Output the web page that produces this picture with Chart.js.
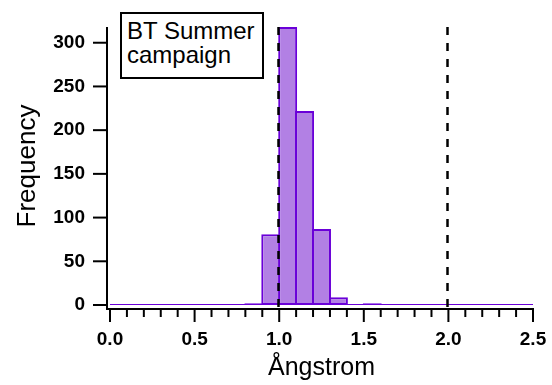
<!DOCTYPE html>
<html>
<head>
<meta charset="utf-8">
<script src="https://cdn.jsdelivr.net/npm/chart.js@4.4.1/dist/chart.umd.min.js"></script>
<style>
html,body{margin:0;padding:0;background:#fff;}
#wrap{position:relative;width:552px;height:385px;}
#note{position:absolute;left:120px;top:12px;width:144px;height:67px;box-sizing:border-box;border:2px solid #000;background:#fff;
  font-family:Arial,"Liberation Sans",sans-serif;font-size:24px;line-height:24px;padding:5px 0 0 5px;color:#000;white-space:nowrap;}
</style>
</head>
<body>
<div id="wrap">
<canvas id="c" width="552" height="385"></canvas>
<div id="note">BT Summer<br>campaign</div>
</div>
<script>
// ---- data ----
const binStarts = [0.0,0.1,0.2,0.3,0.4,0.5,0.6,0.7,0.8,0.9,1.0,1.1,1.2,1.3,1.4,1.5,1.6,1.7,1.8,1.9,2.0,2.1,2.2,2.3,2.4];
const counts    = [0,  0,  0,  0,  0,  0,  0,  0,  2,  81, 318,222,87, 9,  0,  2,  0,  0,  0,  0,  0,  0,  0,  0,  0];
const binWidth = 0.1;
const binEdges = [0.0,0.1,0.2,0.3,0.4,0.5,0.6,0.7,0.8,0.9,1.0,1.1,1.2,1.3,1.4,1.5,1.6,1.7,1.8,1.9,2.0,2.1,2.2,2.3,2.4,2.5];
const refLines = [1.0, 2.0];
const xTickValues = [0.0, 0.5, 1.0, 1.5, 2.0, 2.5];
const xTickLabels = ['0.0','0.5','1.0','1.5','2.0','2.5'];
const yTickValues = [0, 50, 100, 150, 200, 250, 300];
const yTickLabels = ['0','50','100','150','200','250','300'];
const xTitle = 'Ångstrom';
const yTitle = 'Frequency';
const yMax = 318;

const FONT = 'Arial, "Liberation Sans", sans-serif';
const barFill = '#b280e4';
const barLine = '#6a00d8';

const axesPlugin = {
  id: 'igorAxes',
  afterDatasetsDraw(chart) {
    const {ctx, chartArea} = chart;
    const xs = chart.scales.x, ys = chart.scales.y;
    const axX = chartArea.left - 3;
    const axY = chartArea.bottom + 4;
    ctx.save();
    // dashed reference lines
    ctx.strokeStyle = '#000';
    ctx.lineWidth = 2.5;
    ctx.setLineDash([8, 8]);
    refLines.forEach(v => {
      const px = Math.round(xs.getPixelForValue(v)) - 0.5;
      ctx.beginPath();
      ctx.moveTo(px, chartArea.top);
      ctx.lineTo(px, axY);
      ctx.stroke();
    });
    ctx.setLineDash([]);
    ctx.lineWidth = 2;
    // y axis line
    ctx.beginPath();
    ctx.moveTo(axX, chartArea.top);
    ctx.lineTo(axX, axY + 1);
    ctx.stroke();
    // x axis line
    ctx.beginPath();
    ctx.moveTo(axX - 1, axY);
    ctx.lineTo(xs.getPixelForValue(binEdges[binEdges.length - 1]) + 1, axY);
    ctx.stroke();
    // y ticks
    yTickValues.forEach(v => {
      const py = ys.getPixelForValue(v);
      ctx.beginPath();
      ctx.moveTo(axX - 14, py);
      ctx.lineTo(axX, py);
      ctx.stroke();
    });
    // x ticks (minor at bin edges, major at labelled values)
    binEdges.forEach(v => {
      const px = xs.getPixelForValue(v);
      const major = xTickValues.some(t => Math.abs(t - v) < 1e-9);
      ctx.beginPath();
      ctx.moveTo(px, axY);
      ctx.lineTo(px, axY + (major ? 13 : 8));
      ctx.stroke();
    });
    ctx.restore();
  }
};

new Chart(document.getElementById('c'), {
  data: {
    datasets: [
      {
        type: 'bar',
        data: binStarts.map((s, i) => ({x: s + binWidth / 2, y: counts[i]})),
        backgroundColor: barFill,
        borderColor: barLine,
        borderWidth: 2,
        borderSkipped: false,
        barPercentage: 1.12,
        categoryPercentage: 1.0,
        order: 1
      },
      {
        type: 'line',
        data: [{x: binEdges[0], y: 0}, {x: binEdges[binEdges.length - 1], y: 0}],
        borderColor: barLine,
        borderWidth: 2,
        pointRadius: 0,
        fill: false,
        order: 0
      }
    ]
  },
  options: {
    responsive: false,
    animation: false,
    events: [],
    layout: {padding: {top: 27, right: 19, bottom: 0, left: 0}},
    plugins: {legend: {display: false}, tooltip: {enabled: false}},
    scales: {
      x: {
        type: 'linear',
        min: binEdges[0],
        max: binEdges[binEdges.length - 1],
        offset: false,
        grid: {display: false, drawTicks: false},
        border: {display: false},
        afterBuildTicks: s => { s.ticks = xTickValues.map(v => ({value: v})); },
        afterFit: s => { s.height = 80; s.paddingLeft = 0; s.paddingRight = 0; },
        ticks: {
          autoSkip: false,
          maxRotation: 0,
          padding: 23,
          color: '#000',
          font: {family: FONT, size: 19, weight: 'bold'},
          callback: (v, i) => xTickLabels[i]
        },
        title: {
          display: true,
          text: xTitle,
          color: '#000',
          font: {family: FONT, size: 25},
          padding: {top: 0, bottom: 2}
        }
      },
      y: {
        type: 'linear',
        min: 0,
        max: yMax,
        grid: {display: false, drawTicks: false},
        border: {display: false},
        afterBuildTicks: s => { s.ticks = yTickValues.map(v => ({value: v})); },
        afterFit: s => { s.width = 110; s.paddingTop = 0; s.paddingBottom = 0; },
        ticks: {
          padding: 25,
          color: '#000',
          font: {family: FONT, size: 19, weight: 'bold'},
          callback: (v, i) => yTickLabels[i]
        },
        title: {
          display: true,
          text: yTitle,
          color: '#000',
          font: {family: FONT, size: 26},
          padding: {top: 12, bottom: 0}
        }
      }
    }
  },
  plugins: [axesPlugin]
});
</script>
</body>
</html>
